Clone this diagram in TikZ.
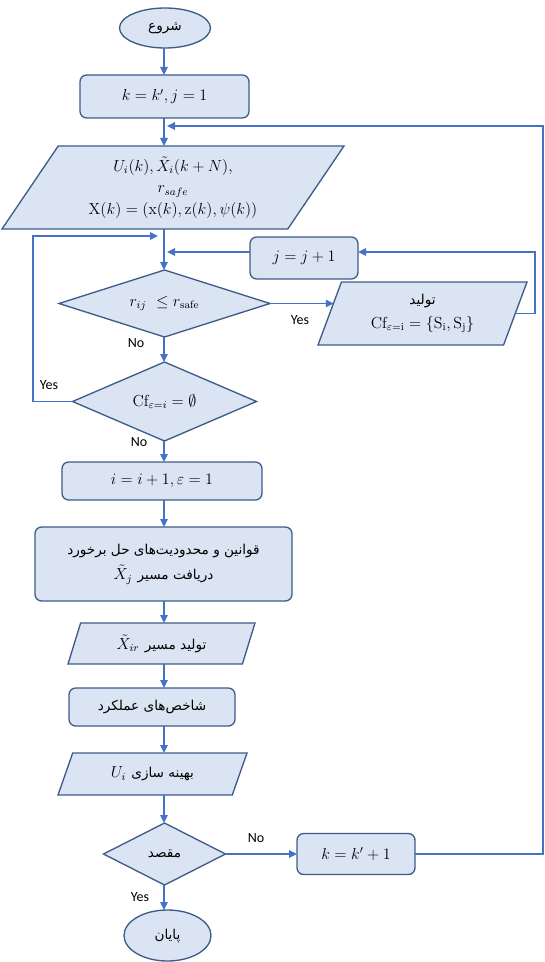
\documentclass[tikz,border=0pt]{standalone}
\usepackage{fontspec}
\usetikzlibrary{shapes.geometric,arrows.meta}
\TeXXeTstate=1
\newfontfamily\arabicfont[Script=Arabic,Scale=0.85]{DejaVu Sans}
\newfontfamily\labelfont{Carlito}
\definecolor{boxfill}{RGB}{219,228,243}
\definecolor{boxline}{RGB}{62,92,138}
\definecolor{flowline}{RGB}{68,114,196}
\newdimen\pxu \pxu=0.75pt
\newcommand{\fatext}[1]{{\arabicfont\beginR #1\endR}}

\tikzset{
    base/.style={draw=boxline, fill=boxfill, line width=1pt, outer sep=0pt,
        inner sep=1pt, align=center, font=\fontsize{12}{16}\selectfont},
    procbox/.style={base, rectangle, rounded corners=5pt},
    iobox/.style={base, trapezium, trapezium stretches body},
    decision/.style={base, diamond, aspect=3},
    terminal/.style={base, ellipse},
    flow/.style={draw=flowline, line width=1.2pt, -{Triangle[length=6pt,width=5.5pt]}},
    lbl/.style={font=\labelfont\fontsize{10.5}{12}\selectfont, inner sep=0pt}
}

\begin{document}
\begin{tikzpicture}[x=0.75pt,y=-0.75pt]
    \useasboundingbox (0,0) rectangle (545,962);

    \coordinate (axis) at (164,0);

    \node[terminal, minimum width=91\pxu, minimum height=40\pxu] (start) at (165,28) {\fatext{شروع}};
    \node[procbox, minimum width=169\pxu, minimum height=43\pxu] (init) at (164.5,96.5) {$k=k',j=1$};
    \node[iobox, trapezium left angle=48.7, trapezium right angle=131.3,
        minimum width=342\pxu, minimum height=83\pxu] (io1) at (173,187.5)
        {$U_i(k),\tilde{X}_i(k+N),$\\ $r_{safe}$\\ $\mathrm{X}(k)=(\mathrm{x}(k),\mathrm{z}(k),\psi(k))$};

    \node[decision, minimum width=211\pxu, minimum height=67\pxu] (dec1) at (164.5,303.5) {$r_{ij}\ \leq r_{\mathrm{safe}}$};
    \node[procbox, minimum width=108\pxu, minimum height=42\pxu] (jinc) at (304,258) {$j=j+1$};
    \node[iobox, trapezium left angle=60.6, trapezium right angle=119.4,
        minimum width=209\pxu, minimum height=63\pxu] (io2) at (422.5,313.5)
        {\fatext{تولید}\\[2pt] $\mathrm{Cf}_{\varepsilon=\mathrm{i}}=\{\mathrm{S_i},\mathrm{S_j}\}$};

    \node[decision, minimum width=184\pxu, minimum height=79\pxu] (dec2) at (164.5,401.5) {$\mathrm{Cf}_{\varepsilon=i}=\emptyset$};
    \node[procbox, minimum width=200\pxu, minimum height=38\pxu] (iinc) at (162,481) {$i=i+1,\varepsilon=1$};
    \node[procbox, minimum width=257\pxu, minimum height=74\pxu, font=\fontsize{12}{19}\selectfont] (rules) at (163.5,564)
        {\fatext{قوانین و محدودیت^^^^200cهای حل برخورد}\\ $\tilde{X}_j$\ \fatext{دریافت مسیر}};
    \node[iobox, trapezium left angle=58.6, trapezium right angle=121.4,
        minimum width=187\pxu, minimum height=41\pxu] (io3) at (161.5,643.5)
        {$\tilde{X}_{ir}$\ \fatext{تولید مسیر}};
    \node[procbox, minimum width=166\pxu, minimum height=38\pxu] (perf) at (152,707) {\fatext{شاخص^^^^200cهای عملکرد}};
    \node[iobox, trapezium left angle=49, trapezium right angle=131,
        minimum width=189\pxu, minimum height=42\pxu] (io4) at (152.5,774)
        {$U_i$\ \fatext{بهینه سازی}};

    \node[decision, minimum width=122\pxu, minimum height=62\pxu] (dec3) at (164.5,854) {\fatext{مقصد}};
    \node[procbox, minimum width=118\pxu, minimum height=41\pxu] (kinc) at (356,854) {$k=k'+1$};
    \node[terminal, minimum width=87\pxu, minimum height=51\pxu] (stop) at (167.5,935.5) {\fatext{پایان}};

    % labels
    \node[lbl] (yes1) at (300,320) {Yes};
    \node[lbl] (no1) at (136,343) {No};
    \node[lbl] (yes2) at (49,385) {Yes};
    \node[lbl] (no2) at (139,442) {No};
    \node[lbl] (no3) at (256,838) {No};
    \node[lbl] (yes3) at (140,897) {Yes};

    % loop points
    \coordinate (topin) at (167,126);
    \coordinate (rtop) at (543,126);
    \coordinate (lft) at (33,236);
    \coordinate (leftin) at (158,236);
    \coordinate (jin) at (167,252);
    \coordinate (rloop) at (535,252);

    % main column
    \draw[flow] (start.south -| axis) -- (init.north -| axis);
    \draw[flow] (init.south -| axis) -- (io1.north -| axis);
    \draw[flow] (io1.south -| axis) -- (dec1.north -| axis);
    \draw[flow] (dec1.south -| axis) -- (dec2.north -| axis);
    \draw[flow] (dec2.south -| axis) -- (iinc.north -| axis);
    \draw[flow] (iinc.south -| axis) -- (rules.north -| axis);
    \draw[flow] (rules.south -| axis) -- (io3.north -| axis);
    \draw[flow] (io3.south -| axis) -- (perf.north -| axis);
    \draw[flow] (perf.south -| axis) -- (io4.north -| axis);
    \draw[flow] (io4.south -| axis) -- (dec3.north -| axis);
    \draw[flow] (dec3.south -| axis) -- (stop.north -| axis);

    % branches
    \draw[flow] (dec1.east) -- (dec1.east -| io2.173);
    \draw[flow] (io2.east) -| (rloop) -- (rloop -| jinc.east);
    \draw[flow] (jinc.west |- jin) -- (jin);
    \draw[flow] (dec2.west) -| (lft) -- (leftin);
    \draw[flow] (dec3.east) -- (kinc.west);
    \draw[flow] (kinc.east) -| (rtop) -- (topin);
\end{tikzpicture}
\end{document}
